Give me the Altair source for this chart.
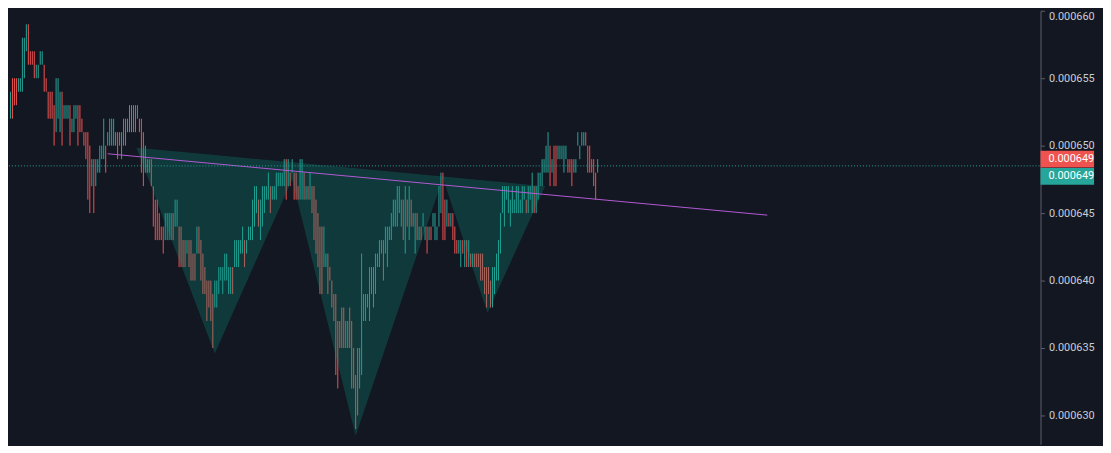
import altair as alt
import pandas as pd
import numpy as np

# ---- OHLC bars: highs / lows in millionths (value * 1e-6), direction u=up, d=down ----
highs_a = [654,655,655,655,654,655,655,655,655,655,658,658,659,659,657,657,657,656,656,657,
           657,656,655,654,654,654,653,655,655,654,654,653,653,653,653,652,653,653,653,653,
           652,651,651,651,650,649,649,649,649]
lows_a = [653,653,654,652,652,652,653,653,654,654,654,655,657,656,656,656,655,655,655,656,
          656,654,654,652,652,652,650,651,652,651,650,652,652,652,650,651,651,652,650,651,
          651,650,649,646,645,647,645,647,648]
dirs_a = "uuudu" "ddduu" "uuudd" "dduuu" "udddd" "dduuu" "duuud" "uuudd" "ddddd" "uduu"

highs_b = [650,650,652,650,651,652,652,652,651,651, 651,651,652,652,652,653,653,653,653,653,
           652,652,651,650,649,649,649,647,646,646, 645,644,644,645,645,645,645,645,646,646,
           644,644,643,643,643,643,643,642,642,644]
lows_b = [648,649,649,648,650,650,650,650,650,649, 650,649,650,650,651,651,651,651,651,652,
          651,648,647,648,648,648,647,644,643,643, 643,643,642,643,643,643,643,643,644,644,
          641,641,641,641,642,641,640,640,640,642]
dirs_b = "uuudu" "uuudd" "uuduu" "ddudu" "dddud" "udddd" "ddduu" "uuduu" "ddddu" "ddddu"

highs_c = [644,643,642,641,640,640,640,639,640,640, 641,641,641,642,642,641,641,641,643,643,
           643,643,644,643,643,644,644,646,647,647, 646,646,647,647,647,648,647,647,647,648,
           648,648,648,649,649,649,648,649,648,648]
lows_c = [642,640,639,639,637,638,637,635,638,638, 639,640,639,640,640,639,639,639,641,641,
          641,642,642,641,642,643,643,643,644,645, 644,643,644,645,646,646,645,646,646,646,
          647,647,647,647,646,647,647,648,646,646]
dirs_c = "ddddd" "ddduu" "uuuuu" "uuduu" "uuudu" "uuuuu" "duuuu" "uduuu" "uuuud" "ududd"

highs_d = [647,649,649,648,647,647,648,647,647,646, 645,644,644,644,642,642,641,640,639,639,
           637,637,638,638,637,637,638,637,635,633, 635,635,642,639,639,639,641,641,641,642,
           642,643,643,643,644,644,644,645,646,646]
lows_d = [646,646,646,646,646,646,646,645,643,642, 641,639,639,641,641,639,640,638,637,633,
          632,635,635,635,635,635,635,632,632,629, 630,632,633,637,637,638,637,639,638,639,
          641,641,642,640,642,641,643,643,644,644]
dirs_d = "duudu" "duddd" "ddduu" "ddddd" "ddddu" "ddddd" "duuuu" "uuudu" "uuudu" "uuuuu"

highs_e = [647,647,646,646,647,646,647,646,645,645, 645,644,644,645,644,644,644,644,645,645,
           644,647,648,648,646,646,645,645,645,644, 643,643,643,643,643,643,643,642,642,642,
           642,642,642,642,641,641,641,640,641,641, 642,643,645]
lows_e = [644,645,644,643,642,644,643,644,644,642, 643,643,643,644,643,642,643,643,644,643,
          643,644,645,643,643,644,644,644,643,642, 642,642,641,642,641,641,641,641,641,641,
          641,641,640,640,639,638,639,638,638,639, 640,640,642]
dirs_e = "uuudu" "duddu" "duduu" "duduu" "uuudd" "ududd" "duudu" "dudud" "ddddd" "ddduu" "uuu"

highs_f = [647,647,647,647,646,647,646,647,647,646, 647,647,646,647,647,648,647,647,648,648,
           649,649,650,651,650,649,650,650,650,650, 650,650,650,649,649,649,649,649,651,650,
           651,651,651,650,650,649,649,648,649]
lows_f = [645,644,646,645,644,645,645,645,645,645, 645,646,645,645,646,645,645,645,646,647,
          647,648,648,648,647,648,647,647,649,649, 649,648,649,648,648,647,648,648,650,649,
          650,650,650,648,648,648,647,646,648]
dirs_f = "uuuuu" "uuuuu" "uuduu" "uduuu" "uuuud" "udduu" "uuudd" "duuuu" "uuddd" "dddu"

highs = highs_a + highs_b + highs_c + highs_d + highs_e + highs_f
lows = lows_a + lows_b + lows_c + lows_d + lows_e + lows_f
dirs = dirs_a + dirs_b + dirs_c + dirs_d + dirs_e + dirs_f

# ---- inverse head & shoulders pattern points (bar index, price in millionths) ----
pat_idx = [67.5, 107, 146, 178, 222, 244.5, 273.5]
pat_price = [649.85, 634.6, 647.5, 628.5, 647.6, 637.6, 647.0]

# ---- neckline (bar index, price in millionths) ----
neck_idx = [53, 385.5]
neck_price = [649.4, 644.85]

last_price_line = 648.5
price_tags = [649.0, 647.72]
price_tag_text = ["0.000649", "0.000649"]
tick_values = [630, 635, 640, 645, 650, 655, 660]

E6 = 1e-6
UP = "#26a69a"
DOWN = "#ef5350"
BG = "#131722"
W, H = 1040, 437

bars = pd.DataFrame({
    "i": np.arange(len(highs)),
    "high": np.array(highs) * E6,
    "low": np.array(lows) * E6,
    "dir": list(dirs),
})
top_line = np.interp(pat_idx, [pat_idx[0], pat_idx[-1]], [pat_price[0], pat_price[-1]])
pat = pd.DataFrame({"i": pat_idx, "p": np.array(pat_price) * E6, "top": top_line * E6})
neck = pd.DataFrame({"i": neck_idx, "p": np.array(neck_price) * E6})
tags = pd.DataFrame({"p": np.array(price_tags) * E6, "txt": price_tag_text, "c": [DOWN, UP]})
lastp = pd.DataFrame({"p": [last_price_line * E6]})

xs = alt.Scale(domain=[3.25, 523.25], nice=False, zero=False)
ys = alt.Scale(domain=[627.868e-6, 660e-6], nice=False, zero=False)
yaxis = alt.Axis(orient="right", values=[v * E6 for v in tick_values], format=".6f",
                 title=None, grid=False, labelFlush=True, domainColor="#5d606b",
                 tickColor="#5d606b", tickSize=4, labelPadding=4, labelColor="#c9ccd4",
                 labelFont="Roboto", labelFontSize=11)

X = lambda f: alt.X(f, scale=xs, axis=None, title=None)
Y = lambda f: alt.Y(f, scale=ys, axis=yaxis, title=None)

bar_layer = alt.Chart(bars).mark_rule(strokeWidth=1, clip=True).encode(
    x=X("i:Q"), y=Y("low:Q"), y2="high:Q",
    color=alt.Color("dir:N", scale=alt.Scale(domain=["u", "d"], range=[UP, DOWN]), legend=None),
)
fill_layer = alt.Chart(pat).mark_area(color="#089981", opacity=0.27, clip=True).encode(
    x=X("i:Q"), y=Y("p:Q"), y2="top:Q"
)
neck_layer = alt.Chart(neck).mark_line(color="#b45ad6", strokeWidth=1, clip=True).encode(
    x=X("i:Q"), y=Y("p:Q")
)
last_layer = alt.Chart(lastp).mark_rule(color=UP, strokeDash=[1, 2], strokeWidth=1).encode(
    y=Y("p:Q"), x=alt.value(0), x2=alt.value(W)
)
tag_box = alt.Chart(tags).mark_rule(strokeWidth=17, strokeCap="butt").encode(
    y=Y("p:Q"), x=alt.value(W), x2=alt.value(W + 54),
    color=alt.Color("c:N", scale=None, legend=None),
)
tag_text = alt.Chart(tags).mark_text(align="left", baseline="middle", color="#ffffff",
                                     font="Roboto", fontSize=11).encode(
    y=Y("p:Q"), x=alt.value(W + 8), text="txt:N"
)

chart = alt.layer(bar_layer, fill_layer, neck_layer, last_layer, tag_box, tag_text).properties(
    width=W, height=H, padding=0, background=BG
).configure_view(stroke=None)

chart.save("out.html", embed_options={"renderer": "svg", "actions": False})
